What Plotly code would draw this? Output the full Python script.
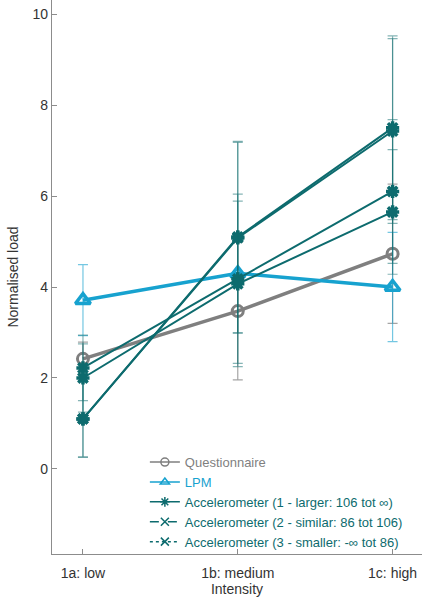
import plotly.graph_objects as go

categories = ["1a: low", "1b: medium", "1c: high"]
xpos = [1, 2, 3]

questionnaire = [2.42, 3.47, 4.73]
questionnaire_err = [0.37, 1.51, 1.53]
lpm = [3.71, 4.30, 4.00]
lpm_err = [0.78, 0.0, 1.20]
acc1 = [1.10, 5.10, 7.50]
acc1_err = [0.84, 2.10, 2.02]
acc1b = [1.10, 5.08, 7.43]
acc1b_err = [0.84, 2.10, 2.03]
acc2 = [2.22, 4.18, 6.10]
acc2_err = [0.72, 1.86, 1.58]
acc3 = [2.00, 4.07, 5.65]
acc3_err = [0.75, 1.82, 1.37]

names = [
    "Questionnaire",
    "LPM",
    "Accelerometer (1 - larger: 106 tot \u221e)",
    "Accelerometer (2 - similar: 86 tot 106)",
    "Accelerometer (3 - smaller: -\u221e tot 86)",
]

GREY = "#7f7f7f"
CYAN = "#17a2cf"
TEAL = "#0d6b6e"
TEAL_ERR = "rgba(13,107,110,0.5)"
CYAN_ERR = "rgba(23,162,207,0.6)"
GREY_ERR = "rgba(127,127,127,0.7)"

fig = go.Figure()

def add(y, err, color, ecolor, width, symbol, msize, mlw):
    fig.add_trace(go.Scatter(
        x=xpos, y=y, mode="lines+markers", showlegend=False,
        line=dict(color=color, width=width),
        marker=dict(symbol=symbol, size=msize, color=color,
                    line=dict(color=color, width=mlw)),
        error_y=dict(type="data", array=err, visible=True,
                     color=ecolor, thickness=1.2, width=5),
    ))

add(questionnaire, questionnaire_err, GREY, GREY_ERR, 3.5, "circle-open", 11, 3)
add(lpm, lpm_err, CYAN, CYAN_ERR, 3.5, "triangle-up-open", 13, 3.5)
add(acc1, acc1_err, TEAL, TEAL_ERR, 2, "asterisk-open", 11, 3.5)
add(acc1b, acc1b_err, TEAL, TEAL_ERR, 2, "asterisk-open", 11, 3.5)
add(acc2, acc2_err, TEAL, TEAL_ERR, 2, "asterisk-open", 11, 3.5)
add(acc3, acc3_err, TEAL, TEAL_ERR, 2, "asterisk-open", 11, 3.5)

# legend-only entries
leg = [
    (names[0], GREY, "solid", "circle-open"),
    (names[1], CYAN, "solid", "triangle-up-open"),
    (names[2], TEAL, "solid", "asterisk-open"),
    (names[3], TEAL, "dash", "x-thin-open"),
    (names[4], TEAL, "dot", "x-thin-open"),
]
for nm, col, dash, sym in leg:
    fig.add_trace(go.Scatter(
        x=[None], y=[None], mode="lines+markers",
        name=f"<span style='color:{col}'>{nm}</span>",
        line=dict(color=col, width=1.5, dash=dash),
        marker=dict(symbol=sym, size=8, color=col, line=dict(color=col, width=1.5)),
    ))

axis_common = dict(
    showline=True, linecolor="#8c8c8c", linewidth=1.2,
    ticks="inside", ticklen=5, tickcolor="#8c8c8c",
    showgrid=False, zeroline=False, automargin=False,
    ticklabeloverflow="allow",
    tickfont=dict(size=14, color="#333333"),
)

fig.update_layout(
    width=422, height=604,
    margin=dict(l=52, r=0, t=0, b=50, autoexpand=False),
    paper_bgcolor="white", plot_bgcolor="white",
    font=dict(family="Liberation Sans, Arial, sans-serif", size=14, color="#333333"),
    xaxis=dict(range=[0.8, 3.19], tickvals=xpos, ticktext=categories,
               ticklabelstandoff=6,
               title=dict(text="Intensity", font=dict(size=14), standoff=3),
               **axis_common),
    yaxis=dict(range=[-1.87, 10.31], tickvals=[0, 2, 4, 6, 8, 10],
               title=dict(text="Normalised load", font=dict(size=14), standoff=10),
               **axis_common),
    legend=dict(x=0.251, y=0.193, xanchor="left", yanchor="top",
                bgcolor="rgba(255,255,255,0)", font=dict(size=13),
                itemwidth=30, tracegroupgap=0),
)

fig.write_html(
    "out.html",
    config={"displayModeBar": False},
    post_script="document.body.style.margin='0';document.body.style.overflow='hidden';",
)
